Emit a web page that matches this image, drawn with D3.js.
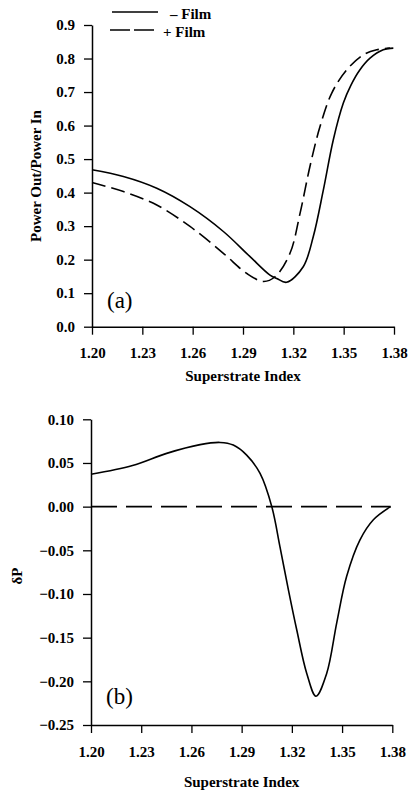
<!DOCTYPE html>
<html>
<head>
<meta charset="utf-8">
<script src="https://cdn.jsdelivr.net/npm/d3@7"></script>
<style>
  body { margin: 0; background: #fff; }
  svg { display: block; }
</style>
</head>
<body>
<div id="chart"></div>
<script>
// panel (a): transmitted power vs superstrate index
const idxNoFilm = [1.200, 1.2187, 1.2386, 1.2584, 1.2783, 1.2942, 1.3061, 1.3101, 1.316, 1.3259, 1.3319, 1.3379, 1.3438, 1.3498, 1.3545, 1.3595, 1.3657, 1.3736, 1.3796];
const powNoFilm = [0.468, 0.448, 0.413, 0.358, 0.284, 0.209, 0.154, 0.144, 0.1325, 0.179, 0.269, 0.408, 0.557, 0.667, 0.722, 0.765, 0.801, 0.826, 0.831];

const idxFilm = [1.200, 1.2187, 1.2386, 1.2584, 1.2783, 1.2922, 1.3021, 1.3091, 1.318, 1.324, 1.3299, 1.3359, 1.3429, 1.3518, 1.3617, 1.3697, 1.3776];
const powFilm = [0.430, 0.403, 0.363, 0.299, 0.219, 0.159, 0.135, 0.149, 0.219, 0.338, 0.478, 0.597, 0.697, 0.766, 0.811, 0.826, 0.831];

// panel (b): difference dP
const idxDelta = [1.200, 1.2248, 1.2452, 1.2652, 1.2771, 1.285, 1.293, 1.301, 1.308, 1.3129, 1.3179, 1.3229, 1.3289, 1.3344, 1.3408, 1.3468, 1.3527, 1.3607, 1.3687, 1.3790];
const deltaP = [0.037, 0.047, 0.061, 0.071, 0.0735, 0.0705, 0.059, 0.038, 0.0, -0.046, -0.095, -0.141, -0.191, -0.217, -0.191, -0.133, -0.080, -0.038, -0.015, 0.0];
const zeroLine = [[1.20, 0], [1.379, 0]];

const xTicks = [1.20, 1.23, 1.26, 1.29, 1.32, 1.35, 1.38];
const yTicksA = [0.0, 0.1, 0.2, 0.3, 0.4, 0.5, 0.6, 0.7, 0.8, 0.9];
const yTicksB = [-0.25, -0.20, -0.15, -0.10, -0.05, 0.00, 0.05, 0.10];

const SERIF = "'Liberation Serif', 'Times New Roman', serif";
const W = 412, H = 793;
const svg = d3.select("#chart").append("svg")
    .attr("width", W)
    .attr("height", H)
    .attr("font-family", SERIF);

function boldText(sel) {
    return sel.attr("font-family", SERIF).attr("font-weight", "bold").attr("font-size", 15).attr("fill", "#000");
}

function drawPanel(opts) {
    const x = d3.scaleLinear().domain([1.20, 1.38]).range([opts.left, opts.right]);
    const y = d3.scaleLinear().domain(opts.yDomain).range([opts.bottom, opts.top]);

    // ejes
    const gx = svg.append("g")
        .attr("transform", `translate(0,${opts.bottom})`)
        .call(d3.axisBottom(x).tickValues(xTicks).tickFormat(d3.format(".2f"))
            .tickSizeInner(8).tickSizeOuter(0).tickPadding(13));
    const gy = svg.append("g")
        .attr("transform", `translate(${opts.left},0)`)
        .call(d3.axisLeft(y).tickValues(opts.yTicks).tickFormat(d3.format(opts.yFormat))
            .tickSizeInner(8).tickSizeOuter(0).tickPadding(9));
    [gx, gy].forEach(g => {
        g.attr("font-family", SERIF);
        g.select(".domain").attr("stroke", "#000").attr("stroke-width", 1.5);
        g.selectAll(".tick line").attr("stroke", "#000").attr("stroke-width", 1.3);
        boldText(g.selectAll(".tick text"));
    });

    boldText(svg.append("text"))
        .attr("x", (opts.left + opts.right) / 2)
        .attr("y", opts.xTitleY)
        .attr("text-anchor", "middle")
        .attr("dy", "0.35em")
        .text("Superstrate Index");

    boldText(svg.append("text"))
        .attr("transform", `translate(${opts.yTitleX},${opts.yTitleY}) rotate(-90)`)
        .attr("text-anchor", "middle")
        .attr("dy", "0.35em")
        .text(opts.yTitle);

    svg.append("text")
        .attr("x", opts.left + 15)
        .attr("y", opts.labelY)
        .attr("dy", "0.35em")
        .attr("font-size", 23)
        .text(opts.label);

    return { x, y };
}

const line = (sx, sy) => d3.line().x(d => sx(d[0])).y(d => sy(d[1])).curve(d3.curveCatmullRom.alpha(0.5));

// (a)
const a = drawPanel({
    left: 92, right: 394, top: 25, bottom: 326.7,
    yDomain: [0, 0.9], yTicks: yTicksA, yFormat: ".1f",
    xTitleY: 376, yTitleX: 36, yTitleY: 176, yTitle: "Power Out/Power In",
    labelY: 300, label: "(a)"
});

svg.append("path")
    .datum(d3.zip(idxNoFilm, powNoFilm))
    .attr("fill", "none").attr("stroke", "#000").attr("stroke-width", 1.6)
    .attr("d", line(a.x, a.y));
svg.append("path")
    .datum(d3.zip(idxFilm, powFilm))
    .attr("fill", "none").attr("stroke", "#000").attr("stroke-width", 1.6)
    .attr("stroke-dasharray", "14,6")
    .attr("d", line(a.x, a.y));

// leyenda
const legend = svg.append("g");
legend.append("line")
    .attr("x1", 112).attr("x2", 158).attr("y1", 12).attr("y2", 12)
    .attr("stroke", "#000").attr("stroke-width", 1.5);
boldText(legend.append("text"))
    .attr("x", 170).attr("y", 14).attr("dy", "0.35em")
    .text("\u2013 Film");
legend.append("line")
    .attr("x1", 110).attr("x2", 154).attr("y1", 30).attr("y2", 30)
    .attr("stroke", "#000").attr("stroke-width", 1.5)
    .attr("stroke-dasharray", "20,4");
boldText(legend.append("text"))
    .attr("x", 163).attr("y", 32).attr("dy", "0.35em")
    .text("+ Film");

// (b)
const b = drawPanel({
    left: 91, right: 392.3, top: 419.3, bottom: 725,
    yDomain: [-0.25, 0.10], yTicks: yTicksB, yFormat: ".2f",
    xTitleY: 782, yTitleX: 17, yTitleY: 576, yTitle: "\u03b4P",
    labelY: 696, label: "(b)"
});

svg.append("path")
    .datum(zeroLine)
    .attr("fill", "none").attr("stroke", "#000").attr("stroke-width", 1.6)
    .attr("stroke-dasharray", "26,9")
    .attr("d", line(b.x, b.y));
svg.append("path")
    .datum(d3.zip(idxDelta, deltaP))
    .attr("fill", "none").attr("stroke", "#000").attr("stroke-width", 1.6)
    .attr("d", line(b.x, b.y));
</script>
</body>
</html>
